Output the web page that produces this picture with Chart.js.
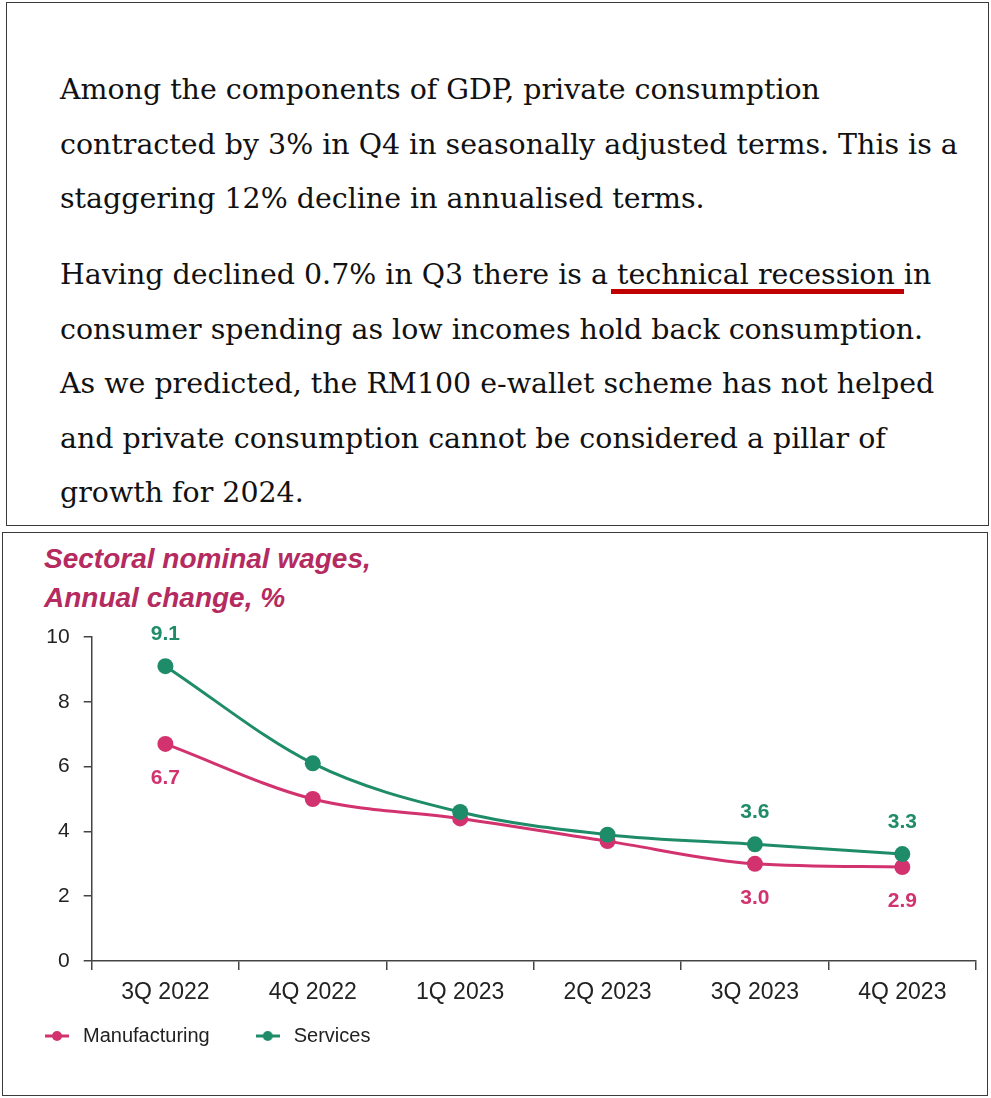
<!DOCTYPE html>
<html>
<head>
<meta charset="utf-8">
<script src="https://cdn.jsdelivr.net/npm/chart.js@4.4.1/dist/chart.umd.min.js"></script>
<style>
  html, body { margin:0; padding:0; background:#fff; width:991px; height:1098px; overflow:hidden; position:relative; }
  #textbox { position:absolute; left:6px; top:2px; width:983px; height:524px; border:1.5px solid #3a3a3a; box-sizing:border-box; }
  #chartbox { position:absolute; left:2px; top:532px; width:986px; height:564px; border:1.5px solid #3a3a3a; box-sizing:border-box; }
  .para { position:absolute; left:60px; font-family:"DejaVu Serif", serif; font-size:28px; color:#111; }
  .line { height:54.5px; line-height:54.5px; white-space:nowrap; }
  .ul { position:relative; }
  .ul::after { content:""; position:absolute; left:-6px; right:0; top:1.1em; height:4.5px; background:#c00000; }
  #title { position:absolute; left:44px; top:539px; font-family:"Liberation Sans", Arial, sans-serif; font-weight:bold; font-style:italic; font-size:28px; line-height:39px; color:#b52a5f; }
  #c { position:absolute; left:-1px; top:533px; }
</style>
</head>
<body>
<div id="textbox"></div>
<div class="para" id="p1" style="top:63px">
  <div class="line">Among the components of GDP, private consumption</div>
  <div class="line" id="refline">contracted by 3% in Q4 in seasonally adjusted terms. This is a</div>
  <div class="line">staggering 12% decline in annualised terms.</div>
</div>
<div class="para" id="p2" style="top:248px">
  <div class="line">Having declined 0.7% in Q3 there is a <span class="ul">technical recession </span>in</div>
  <div class="line">consumer spending as low incomes hold back consumption.</div>
  <div class="line">As we predicted, the RM100 e-wallet scheme has not helped</div>
  <div class="line">and private consumption cannot be considered a pillar of</div>
  <div class="line">growth for 2024.</div>
</div>
<div id="chartbox"></div>
<div id="title">Sectoral nominal wages,<br>Annual change, %</div>
<canvas id="c" width="990" height="562"></canvas>
<script>
// fit paragraph font size to reference line width
(function(){
  const ref = document.getElementById('refline');
  const r = document.createRange(); r.selectNodeContents(ref);
  const w = r.getBoundingClientRect().width;
  const fs = 28 * 898 / w;
  document.querySelectorAll('.para').forEach(p => p.style.fontSize = fs.toFixed(2) + 'px');
})();

const categories = ['3Q 2022', '4Q 2022', '1Q 2023', '2Q 2023', '3Q 2023', '4Q 2023'];
const manufacturing = [6.7, 5.0, 4.4, 3.7, 3.0, 2.9];
const services = [9.1, 6.1, 4.6, 3.9, 3.6, 3.3];
const manufacturingLabelIdx = [0, 4, 5];
const servicesLabelIdx = [0, 4, 5];
const yMin = 0, yMax = 10, yStep = 2;

const PINK = '#d2336f';
const GREEN = '#1f8c69';

function marker(color){
  const c = document.createElement('canvas');
  c.width = 24; c.height = 12;
  const x = c.getContext('2d');
  x.strokeStyle = color; x.lineWidth = 3;
  x.beginPath(); x.moveTo(0, 6); x.lineTo(24, 6); x.stroke();
  x.fillStyle = color; x.beginPath(); x.arc(12, 6, 5, 0, Math.PI*2); x.fill();
  return c;
}

const valueLabels = {
  id: 'valueLabels',
  afterDatasetsDraw(chart){
    const ctx = chart.ctx;
    chart.data.datasets.forEach((ds, i) => {
      const meta = chart.getDatasetMeta(i);
      ds.labelIdx.forEach(j => {
        const p = meta.data[j];
        ctx.save();
        ctx.font = 'bold 21px "Liberation Sans", Arial, sans-serif';
        ctx.fillStyle = ds.borderColor;
        ctx.textAlign = 'center';
        ctx.textBaseline = 'middle';
        ctx.fillText(ds.data[j].toFixed(1), p.x, p.y + ds.labelOffset);
        ctx.restore();
      });
    });
  }
};

// move the legend row up so it sits just below the axis labels
const legendShift = {
  id: 'legendShift',
  afterLayout(chart){
    const lg = chart.legend;
    if (lg) { lg.top -= 27; lg.bottom -= 27; }
  }
};

Chart.defaults.font.family = '"Liberation Sans", Arial, sans-serif';
Chart.defaults.color = '#222';

new Chart(document.getElementById('c'), {
  type: 'line',
  data: {
    labels: categories,
    datasets: [
      { label: 'Services', data: services, borderColor: GREEN, backgroundColor: GREEN,
        pointBackgroundColor: GREEN, pointBorderWidth: 0, pointRadius: 8, borderWidth: 3,
        cubicInterpolationMode: 'monotone', labelIdx: servicesLabelIdx, labelOffset: -32 },
      { label: 'Manufacturing', data: manufacturing, borderColor: PINK, backgroundColor: PINK,
        pointBackgroundColor: PINK, pointBorderWidth: 0, pointRadius: 8, borderWidth: 3,
        cubicInterpolationMode: 'monotone', labelIdx: manufacturingLabelIdx, labelOffset: 34 }
    ]
  },
  options: {
    responsive: false,
    animation: false,
    devicePixelRatio: 1,
    layout: { padding: { top: 104, right: 13, bottom: 12, left: 0 } },
    plugins: {
      tooltip: { enabled: false },
      legend: {
        position: 'bottom',
        align: 'start',
        labels: {
          usePointStyle: true,
          pointStyleWidth: 32,
          padding: 42,
          color: '#222',
          font: { size: 20 },
          sort: (a, b) => b.datasetIndex - a.datasetIndex,
          generateLabels(chart){
            const items = Chart.defaults.plugins.legend.labels.generateLabels(chart);
            items.forEach(it => { it.pointStyle = marker(chart.data.datasets[it.datasetIndex].borderColor); });
            return items;
          }
        }
      }
    },
    scales: {
      x: {
        offset: true,
        grid: { offset: true, drawOnChartArea: false, drawTicks: true, tickLength: 9, color: '#444', lineWidth: 1.5 },
        border: { color: '#444', width: 1.5 },
        ticks: { color: '#222', font: { size: 23 }, padding: 9, maxRotation: 0, autoSkip: false },
        afterFit(s){ s.height = 50; }
      },
      y: {
        min: yMin, max: yMax,
        grid: { drawOnChartArea: false, drawTicks: true, tickLength: 8, color: '#444', lineWidth: 1.5 },
        border: { color: '#444', width: 1.5 },
        ticks: { stepSize: yStep, color: '#222', font: { size: 21 }, padding: 14 },
        afterFit(s){ s.width = 92.7; }
      }
    }
  },
  plugins: [valueLabels, legendShift]
});
</script>
</body>
</html>
